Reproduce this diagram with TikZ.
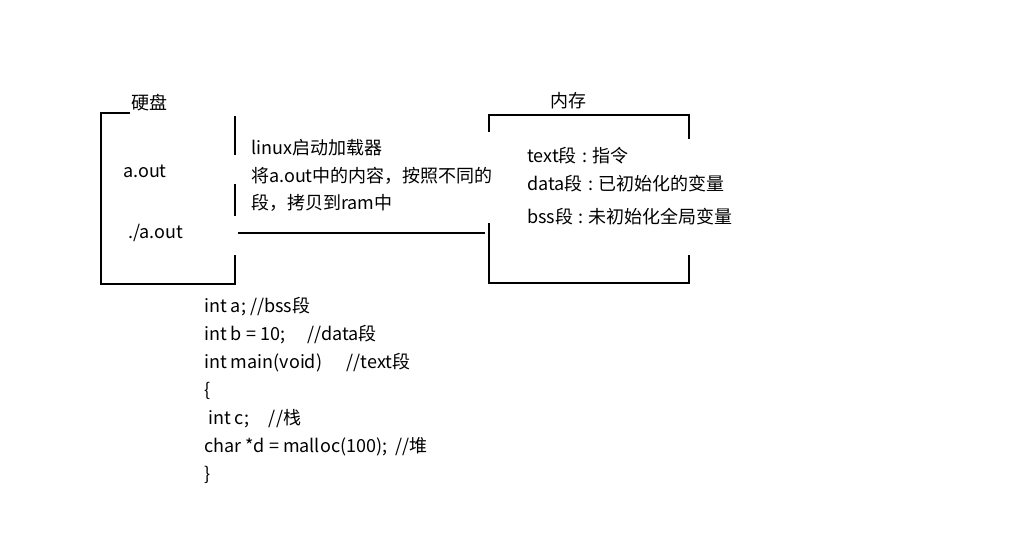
\documentclass[tikz,border=0pt]{standalone}
\usepackage{fontspec}
\setmainfont{Noto Sans CJK SC}
\newcommand{\segcolon}{\hspace{0.3em}:\hspace{0.3em}}
\tikzset{
  edge/.style={line width=2pt, line cap=rect},
  lbl/.style={anchor=base west, inner sep=0pt, font=\fontsize{18}{22}\selectfont},
}
\begin{document}
\begin{tikzpicture}[x=1pt,y=-1pt]
\useasboundingbox (0,0) rectangle (1027,542);
% disk box
\draw[edge] (129,113) -- (101,113) -- (101,284) -- (235,284) -- (235,256);
\draw[edge] (235,117) -- (235,154);
\draw[edge] (235,185) -- (235,215);
% memory box
\draw[edge] (489,131) -- (489,115) -- (689,115) -- (689,138);
\draw[edge] (489,224) -- (489,283) -- (689,283) -- (689,256);
% link line
\coordinate (linkA) at (238,233);
\coordinate (linkB) at (485,233);
\draw[edge, line cap=butt] (linkA) -- (linkB);
% labels
\node[lbl] (disk) at (131,109) {硬盘};
\node[lbl] (aout) at (123,177) {a.out};
\node[lbl] (run) at (128,238) {./a.out};
\node[lbl] (l1) at (251,154) {linux启动加载器};
\node[lbl] (l2) at (251,182) {将a.out中的内容，按照不同的};
\node[lbl] (l3) at (251,209) {段，拷贝到ram中};
\node[lbl] (mem) at (550,107) {内存};
\node[lbl] (seg1) at (527,162) {text段\segcolon 指令};
\node[lbl] (seg2) at (527,190) {data段\segcolon 已初始化的变量};
\node[lbl] (seg3) at (527,223) {bss段\segcolon 未初始化全局变量};
% code
\node[lbl] (c1) at (204,312) {int a; //bss段};
\node[lbl] (c2) at (204,340) {int b = 10;\hspace{1.25em}//data段};
\node[lbl] (c3) at (204,368) {int main(void)\hspace{1.35em}//text段};
\node[lbl] (c4) at (204,396) {\{};
\node[lbl] (c5) at (204,424) {\ int c;\hspace{1.1em}//栈};
\node[lbl] (c6) at (204,452) {char *d = malloc(100);\hspace{0.45em}//堆};
\node[lbl] (c7) at (204,480) {\}};
\end{tikzpicture}
\end{document}
